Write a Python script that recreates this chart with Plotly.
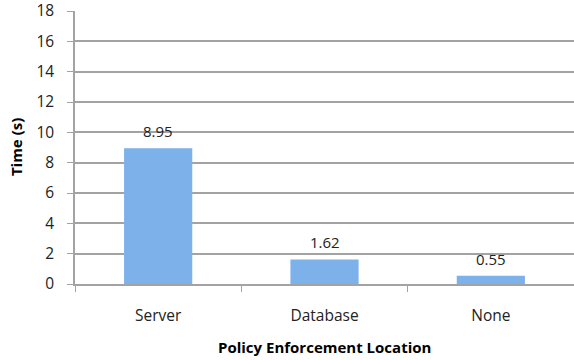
import plotly.graph_objects as go

categories = ["Server", "Database", "None"]
times = [8.95, 1.62, 0.55]
value_labels = ["8.95", "1.62", "0.55"]
y_ticks = [0, 2, 4, 6, 8, 10, 12, 14, 16, 18]

FONT = "Open Sans, Lato, sans-serif"
GRID = "#A3A3A3"

fig = go.Figure()
fig.add_trace(go.Bar(
    x=categories, y=times, width=0.41,
    marker=dict(color="#7DB1EA", line=dict(width=0)),
    hoverinfo="skip",
))

for c, v, t in zip(categories, times, value_labels):
    fig.add_annotation(x=c, y=v, text=t, showarrow=False, yanchor="bottom",
                       yshift=5, font=dict(family=FONT, size=15, color="#222"))

fig.add_annotation(xref="paper", yref="paper", x=0.5, y=-0.231, xanchor="center",
                   yanchor="middle", showarrow=False,
                   text="<b>Policy Enforcement Location</b>",
                   font=dict(family=FONT, size=15, color="#000"))
fig.add_annotation(xref="paper", yref="paper", x=-0.119, y=0.50, xanchor="center",
                   yanchor="middle", showarrow=False, textangle=-90,
                   text="<b>Time (s)</b>",
                   font=dict(family=FONT, size=15, color="#000"))

fig.update_layout(
    width=574, height=360,
    margin=dict(l=75, r=0, t=11, b=76),
    paper_bgcolor="white", plot_bgcolor="white",
    showlegend=False,
    font=dict(family=FONT, size=15, color="#222"),
    xaxis=dict(
        range=[-0.5, 2.5], showgrid=False, showline=True, linecolor=GRID, linewidth=1.5,
        ticks="outside", tickson="boundaries", ticklen=6, tickcolor=GRID,
        ticklabelstandoff=17, tickfont=dict(family=FONT, size=15.5, color="#222"),
    ),
    yaxis=dict(
        range=[0, 18], tickvals=y_ticks, showgrid=True, gridcolor=GRID, gridwidth=1.5,
        zeroline=False, showline=True, linecolor=GRID, linewidth=1.5,
        ticks="outside", ticklen=6, tickcolor=GRID, ticklabelstandoff=10,
        ticklabeloverflow="allow",
        tickfont=dict(family=FONT, size=15.5, color="#222"),
    ),
)

fig.write_html("out.html")
